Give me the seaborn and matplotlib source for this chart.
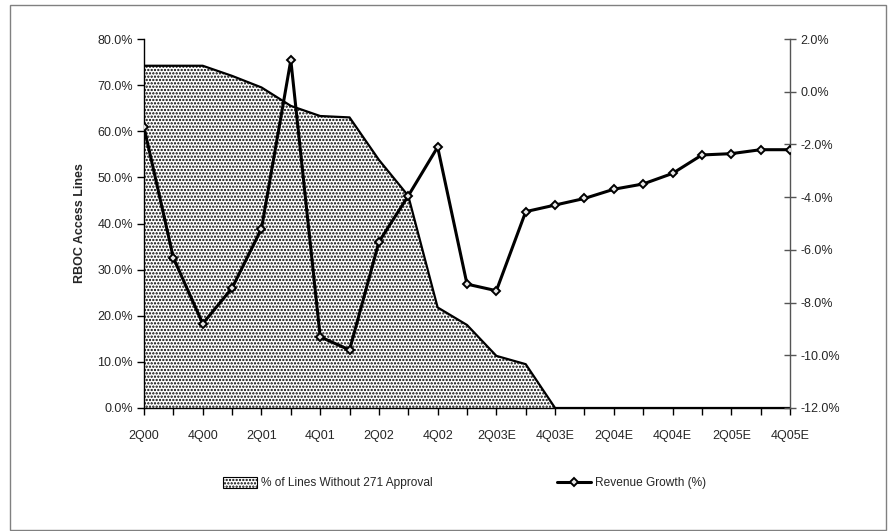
import matplotlib
matplotlib.use("Agg")
import matplotlib.pyplot as plt
import matplotlib.patches as mpatches
from matplotlib.ticker import FuncFormatter, FixedLocator
import numpy as np
import pandas as pd
import seaborn as sns

# Quarterly categories (E = estimate)
quarters = ["2Q00", "3Q00", "4Q00", "1Q01", "2Q01", "3Q01", "4Q01", "1Q02",
            "2Q02", "3Q02", "4Q02", "1Q03E", "2Q03E", "3Q03E", "4Q03E",
            "1Q04E", "2Q04E", "3Q04E", "4Q04E", "1Q05E", "2Q05E", "3Q05E", "4Q05E"]

# Share of RBOC access lines without 271 approval (%), left axis
lines_without_271 = [74.2, 74.2, 74.2, 72.0, 69.5, 65.5, 63.3, 63.0,
                     53.8, 46.0, 21.8, 18.0, 11.3, 9.5, 0.0,
                     0.0, 0.0, 0.0, 0.0, 0.0, 0.0, 0.0, 0.0]

# Revenue growth (%), right axis
revenue_growth = [-1.35, -6.3, -8.8, -7.45, -5.2, 1.2, -9.3, -9.8,
                  -5.7, -3.95, -2.1, -7.3, -7.55, -4.55, -4.3,
                  -4.05, -3.7, -3.5, -3.1, -2.4, -2.35, -2.2, -2.2]

left_ticks = [0, 10, 20, 30, 40, 50, 60, 70, 80]
right_ticks = [-12, -10, -8, -6, -4, -2, 0, 2]

area_label = "% of Lines Without 271 Approval"
line_label = "Revenue Growth (%)"
ylabel_text = "RBOC Access Lines"

sns.set_theme(style="white")
plt.rcParams["font.family"] = ["Liberation Sans", "DejaVu Sans"]
plt.rcParams["axes.unicode_minus"] = False
plt.rcParams["hatch.linewidth"] = 1.1
plt.rcParams["hatch.color"] = "black"

df = pd.DataFrame({
    "pos": np.arange(len(quarters)),
    "quarter": quarters,
    "without_271": lines_without_271,
    "growth": revenue_growth,
})

fig = plt.figure(figsize=(8.91, 5.31), dpi=100)
fig.patch.set_facecolor("white")

ax = fig.add_axes([144 / 891, 123 / 531, 646 / 891, 369 / 531])
ax.set_facecolor("white")

# Dotted area series
ax.fill_between(df["pos"], df["without_271"], 0, facecolor="white",
                edgecolor="black", hatch=".....", linewidth=0, zorder=1)
ax.plot(df["pos"], df["without_271"], color="black", lw=1.6, zorder=2)

ax.set_xlim(0, len(quarters) - 1)
ax.set_ylim(0, 80)
ax.yaxis.set_major_locator(FixedLocator(left_ticks))
ax.yaxis.set_major_formatter(FuncFormatter(lambda v, p: f"{v:.1f}%"))
ax.set_xticks(df["pos"])
ax.set_xticklabels([q if i % 2 == 0 else "" for i, q in enumerate(quarters)])

for side in ["top", "right"]:
    ax.spines[side].set_visible(False)
for side in ["left", "bottom"]:
    ax.spines[side].set_color("black")
    ax.spines[side].set_linewidth(1.0)
ax.tick_params(axis="y", direction="out", length=5, width=1, color="black",
               labelsize=9, pad=3, left=True)
ax.tick_params(axis="x", direction="out", length=5, width=1, color="black",
               labelsize=9, pad=11, bottom=True)
ax.set_ylabel(ylabel_text, fontsize=9, fontweight="bold")
ax.yaxis.set_label_coords(-0.090, 0.5)
ax.grid(False)

# Revenue growth line on the secondary axis
ax2 = ax.twinx()
sns.lineplot(data=df, x="pos", y="growth", ax=ax2, color="black", lw=2.2,
             marker="D", markersize=4.5, markerfacecolor="#e8e8e8",
             markeredgecolor="black", markeredgewidth=1.4, zorder=5,
             legend=False)
ax2.set_ylim(-12, 2)
ax2.yaxis.set_major_locator(FixedLocator(right_ticks))
ax2.yaxis.set_major_formatter(FuncFormatter(lambda v, p: f"{v:.1f}%"))
ax2.set_ylabel("")
ax2.set_xlabel("")
for side in ["top", "left", "bottom"]:
    ax2.spines[side].set_visible(False)
ax2.spines["right"].set_color("#555555")
ax2.spines["right"].set_linewidth(1.0)
ax2.tick_params(axis="y", direction="inout", length=9, width=1, color="#555555",
                labelsize=9, pad=3, right=True)
ax2.grid(False)
ax.set_xlabel("")

# Legend below the plot
area_handle = mpatches.Patch(facecolor="white", edgecolor="black",
                             hatch=".....", linewidth=0.8)
line_handle = plt.Line2D([], [], color="black", lw=2.2, marker="D",
                         markersize=4.5, markerfacecolor="#e8e8e8",
                         markeredgecolor="black", markeredgewidth=1.4)
fig.legend([area_handle, line_handle], [area_label, line_label],
           loc="center", bbox_to_anchor=(0.521, 0.090), ncol=2,
           frameon=False, fontsize=8.6, handlelength=2.9, handleheight=1.0,
           handletextpad=0.3, columnspacing=10.4)

# Outer chart border
fig.add_artist(mpatches.Rectangle((10 / 891, 1 / 531), 876 / 891, 525 / 531,
                                  transform=fig.transFigure, fill=False,
                                  edgecolor="#808080", linewidth=1.0))

fig.savefig("out.png", dpi=100, facecolor="white")
